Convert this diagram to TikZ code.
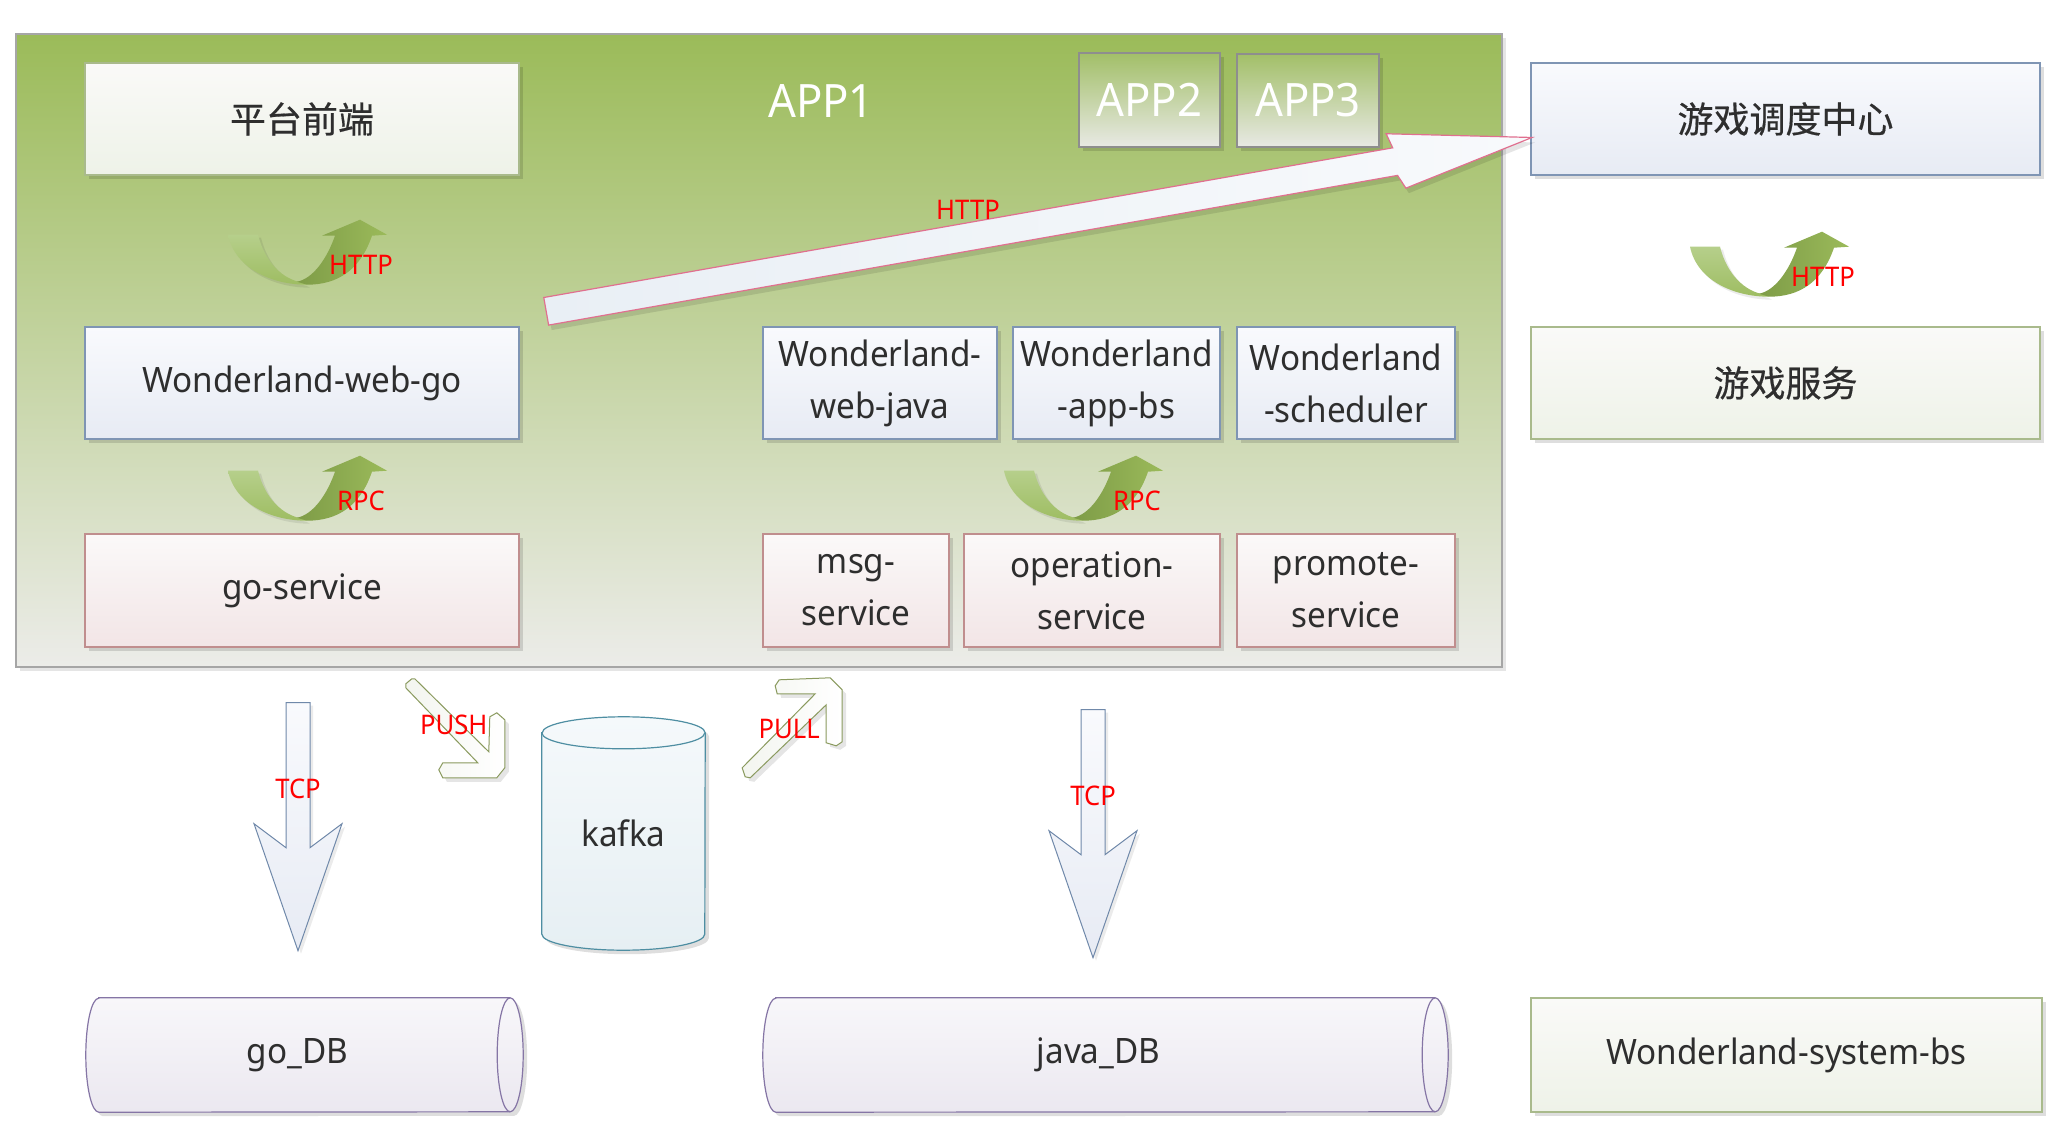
\documentclass[tikz,border=0pt]{standalone}
\usepackage{fontspec}
\setmainfont[FakeStretch=0.95]{Noto Sans}
\newfontfamily\cjk[FakeBold=0.5]{Noto Sans CJK SC}
\usetikzlibrary{calc,shadows}

\definecolor{cText}{HTML}{2E2E2E}
\definecolor{cGreenTop}{HTML}{9BBB59}
\definecolor{cZoneBot}{HTML}{ECECE9}
\definecolor{cFrame}{HTML}{A6A6A6}
\definecolor{cBlueTop}{HTML}{F9FAFD}
\definecolor{cBlueBot}{HTML}{E7EBF4}
\definecolor{cBlueLine}{HTML}{7F95B4}
\definecolor{cPinkTop}{HTML}{FBF9F9}
\definecolor{cPinkBot}{HTML}{F2E5E6}
\definecolor{cPinkLine}{HTML}{C08E8E}
\definecolor{cOliveTop}{HTML}{FAFAF8}
\definecolor{cOliveBot}{HTML}{EEF2E8}
\definecolor{cOliveLine}{HTML}{A9BA8C}
\definecolor{cAppTop}{HTML}{A2BF68}
\definecolor{cAppBot}{HTML}{E8E9E4}
\definecolor{cAppLine}{HTML}{8E8E8E}
\definecolor{cHttpLine}{HTML}{E0708F}
\definecolor{cHttpL}{HTML}{E9EFF5}
\definecolor{cHttpR}{HTML}{F8FAFC}
\definecolor{cTcpLine}{HTML}{7089AA}
\definecolor{cBentLine}{HTML}{8A9A5E}
\definecolor{cBentFill}{HTML}{F3F5EF}
\definecolor{cKafkaLine}{HTML}{4E8EA2}
\definecolor{cKafkaTop}{HTML}{F5F9FB}
\definecolor{cKafkaBot}{HTML}{E6EFF3}
\definecolor{cDbLine}{HTML}{8575A5}
\definecolor{cDbTop}{HTML}{F8F7FA}
\definecolor{cDbBot}{HTML}{EBE8F0}
\definecolor{cBandLT}{HTML}{B6CF8B}
\definecolor{cBandLB}{HTML}{9EBD62}
\definecolor{cBandRL}{HTML}{7E9C47}
\definecolor{cBandRR}{HTML}{9BBA5A}

\tikzset{
  softshadow/.style={drop shadow={shadow xshift=4pt, shadow yshift=-4pt, fill=black, opacity=0.13}},
  basebox/.style={rectangle, line width=1.4pt, text=cText, align=center, inner sep=0pt,
    font=\fontsize{35}{52}\selectfont, softshadow},
  cjkfont/.style={font=\cjk\fontsize{36}{40}\selectfont},
  bluebox/.style={basebox, draw=cBlueLine, top color=cBlueTop, bottom color=cBlueBot},
  pinkbox/.style={basebox, draw=cPinkLine, top color=cPinkTop, bottom color=cPinkBot},
  olivebox/.style={basebox, draw=cOliveLine, top color=cOliveTop, bottom color=cOliveBot},
  appbox/.style={basebox, draw=cAppLine, top color=cAppTop, bottom color=cAppBot,
    text=white, font=\fontsize{46}{48}\selectfont},
  applabel/.style={text=white, font=\fontsize{46}{48}\selectfont, inner sep=0pt},
  zone/.style={rectangle, draw=cFrame, line width=2pt, top color=cGreenTop, bottom color=cZoneBot,
    minimum width=1486pt, minimum height=633pt,
    drop shadow={shadow xshift=4pt, shadow yshift=-4pt, fill=black, opacity=0.1}},
  lbl/.style={text=red, font=\fontsize{27}{30}\selectfont, inner sep=0pt},
  dbtext/.style={text=cText, font=\fontsize{35}{40}\selectfont, inner sep=0pt},
  dbshape/.style={draw=cDbLine, line width=1.2pt, top color=cDbTop, bottom color=cDbBot, softshadow},
  kafkashape/.style={draw=cKafkaLine, line width=1.2pt, top color=cKafkaTop, bottom color=cKafkaBot, softshadow},
  bent/.style={draw=cBentLine, line width=1pt, left color=cBentFill, right color=white,
    drop shadow={shadow xshift=4pt, shadow yshift=-4pt, fill=black, opacity=0.1}},
  pics/uturn/.style={code={
    % light left band of the U-turn
    \path[top color=cBandLT, bottom color=cBandLB,
          drop shadow={shadow xshift=3pt, shadow yshift=-3pt, fill=black, opacity=0.08}]
      (1,16) -- (31,16) .. controls (38,44) and (56,61) .. (76,64) -- (80,66)
      .. controls (45,66) and (8,50) .. (1,16) -- cycle;
    % darker right band with the head
    \path[left color=cBandRL, right color=cBandRR]
      (70,63) .. controls (86,60) and (100,40) .. (108,17) -- (95,17) -- (133,1)
      -- (160,16) -- (145,17) .. controls (133,52) and (110,66) .. (80,66) -- cycle;
    \node[lbl] at (134,46) {#1};
  }},
  pics/tcparr/.style={code={
    \path[draw=cTcpLine, line width=1pt, top color=cBlueTop, bottom color=cBlueBot,
          drop shadow={shadow xshift=3pt, shadow yshift=-3pt, fill=black, opacity=0.08}]
      (-12,0) -- (12,0) -- (12,145) -- (44,121) -- (0,248) -- (-44,121) -- (-12,145) -- cycle;
    \node[lbl] at (0,86) {#1};
  }},
  pics/pusharr/.style={code={
    \path[bent] (-136,-29) -- (-136,-33) -- (-130,-38) -- (-127,-38) -- (-53,35) -- (-52,0)
      -- (-45,-4) -- (-37,3) -- (-37,51) -- (-45,61) -- (-99,61) -- (-103,53) -- (-99,46)
      -- (-64,46) -- cycle;
    \node[lbl] at (-88,8) {PUSH};
  }},
  pics/pullarr/.style={code={
    \path[bent] (37,51) -- (110,-23) -- (72,-23) -- (70,-31) -- (74,-37) -- (125,-39)
      -- (137,-27) -- (137,25) -- (131,29) -- (121,26) -- (121,-12) -- (45,61) -- (40,60) -- cycle;
    \node[lbl] at (84,12) {PULL};
  }},
}

\begin{document}
\begin{tikzpicture}[x=1pt,y=-1pt]
\useasboundingbox (0,0) rectangle (2070,1142);
\fill[white] (0,0) rectangle (2070,1142);

% application zone
\node[zone] (zone) at (759,350.5) {};
\node[applabel] (app1) at (821,101) {APP1};
\node[appbox, minimum width=141pt, minimum height=94pt] (app2) at (1149.5,100) {APP2};
\node[appbox, minimum width=142pt, minimum height=93pt] (app3) at (1308,100.5) {APP3};

% front end and go stack
\node[olivebox, cjkfont, minimum width=434pt, minimum height=112pt] (front) at (302,119) {平台前端};
\node[bluebox, minimum width=434pt, minimum height=112pt] (webgo) at (302,383) {Wonderland-web-go};
\node[pinkbox, minimum width=434pt, minimum height=113pt] (gosvc) at (302,590.5) {go-service};

% java stack
\node[bluebox, minimum width=234pt, minimum height=112pt] (webjava) at (880,383) {Wonderland-\\web-java};
\node[bluebox, minimum width=207pt, minimum height=112pt] (appbs) at (1116.5,383) {Wonderland\\-app-bs};
\node[bluebox, minimum width=218pt, minimum height=112pt] (sched) at (1346,383) {Wonderland\\-scheduler};
\node[pinkbox, minimum width=186pt, minimum height=113pt] (msgsvc) at (856,590.5) {msg-\\service};
\node[pinkbox, minimum width=256pt, minimum height=113pt] (opsvc) at (1092,590.5) {operation-\\service};
\node[pinkbox, minimum width=218pt, minimum height=113pt] (promsvc) at (1346,590.5) {promote-\\service};

% game side
\node[bluebox, cjkfont, minimum width=509pt, minimum height=112pt] (gamesched) at (1785.5,119) {游戏调度中心};
\node[olivebox, cjkfont, minimum width=509pt, minimum height=112pt] (gamesvc) at (1785.5,383) {游戏服务};
\node[olivebox, minimum width=511pt, minimum height=114pt] (sysbs) at (1786.5,1055) {Wonderland-system-bs};

% call arrows between layers
\pic at ($(front.south)+(-75,43)$) {uturn=HTTP};
\pic at ($(webgo.south)+(-75,15)$) {uturn=RPC};
\pic at ($(appbs.south)+(-113.5,15)$) {uturn=RPC};
\pic at ($(gamesched.south)+(-96.5,55)$) {uturn=HTTP};

% HTTP call from the web layer to the game scheduler
\coordinate (hs) at ($(webgo.north east)+(26.5,-15)$);
\coordinate (he) at ($(gamesched.west)+(0,19)$);
\begin{scope}[shift={($(hs)+(3,5)$)}, rotate=10]
  \fill[black, opacity=0.1] (0,-14) -- (862,-14) -- (858,-29) -- (1001,0) -- (868,28) -- (862,14) -- (0,14) -- cycle;
\end{scope}
\begin{scope}[shift={(hs)}, rotate=10]
  \path[draw=cHttpLine, line width=1.2pt, left color=cHttpL, right color=cHttpR]
    (0,-14) -- (862,-14) -- (858,-29) -- (1001,0) -- (868,28) -- (862,14) -- (0,14) -- cycle;
\end{scope}
\node[lbl] (httplbl) at (968,210) {HTTP};

% kafka queue
\node[minimum width=163pt, minimum height=233pt, inner sep=0pt] (kafka) at (623.5,833.5) {};
\path[kafkashape] ($(kafka.north west)+(0,16)$) -- ($(kafka.south west)+(0,-16)$)
  arc[start angle=180, end angle=360, x radius=81.5pt, y radius=16pt]
  -- ($(kafka.north east)+(0,16)$)
  arc[start angle=0, end angle=180, x radius=81.5pt, y radius=16pt] -- cycle;
\draw[draw=cKafkaLine, line width=1.2pt] ($(kafka.north west)+(0,16)$)
  arc[start angle=180, end angle=360, x radius=81.5pt, y radius=16pt];
\node[dbtext] at (kafka.center) {kafka};
\pic at (kafka.north west) {pusharr};
\pic at (kafka.north east) {pullarr};

% databases
\node[minimum width=437pt, minimum height=114pt, inner sep=0pt] (godb) at (304.5,1055) {};
\node[minimum width=685pt, minimum height=114pt, inner sep=0pt] (javadb) at (1105.5,1055) {};
\foreach \db in {godb, javadb} {
  \path[dbshape] ($(\db.north west)+(13,0)$) -- ($(\db.north east)+(-13,0)$)
    arc[start angle=90, end angle=-90, x radius=13pt, y radius=57pt]
    -- ($(\db.south west)+(13,0)$)
    arc[start angle=270, end angle=90, x radius=13pt, y radius=57pt] -- cycle;
  \draw[draw=cDbLine, line width=1.2pt] ($(\db.north east)+(-13,0)$)
    arc[start angle=90, end angle=270, x radius=13pt, y radius=57pt];
}
\node[dbtext] at ($(godb.center)+(-7,0)$) {go\_DB};
\node[dbtext] at ($(javadb.center)+(-7,0)$) {java\_DB};

% TCP links to the databases
\pic at ($(gosvc.south)+(-4,55)$) {tcparr=TCP};
\pic at ($(opsvc.south)+(1,62)$) {tcparr=TCP};
\end{tikzpicture}
\end{document}
